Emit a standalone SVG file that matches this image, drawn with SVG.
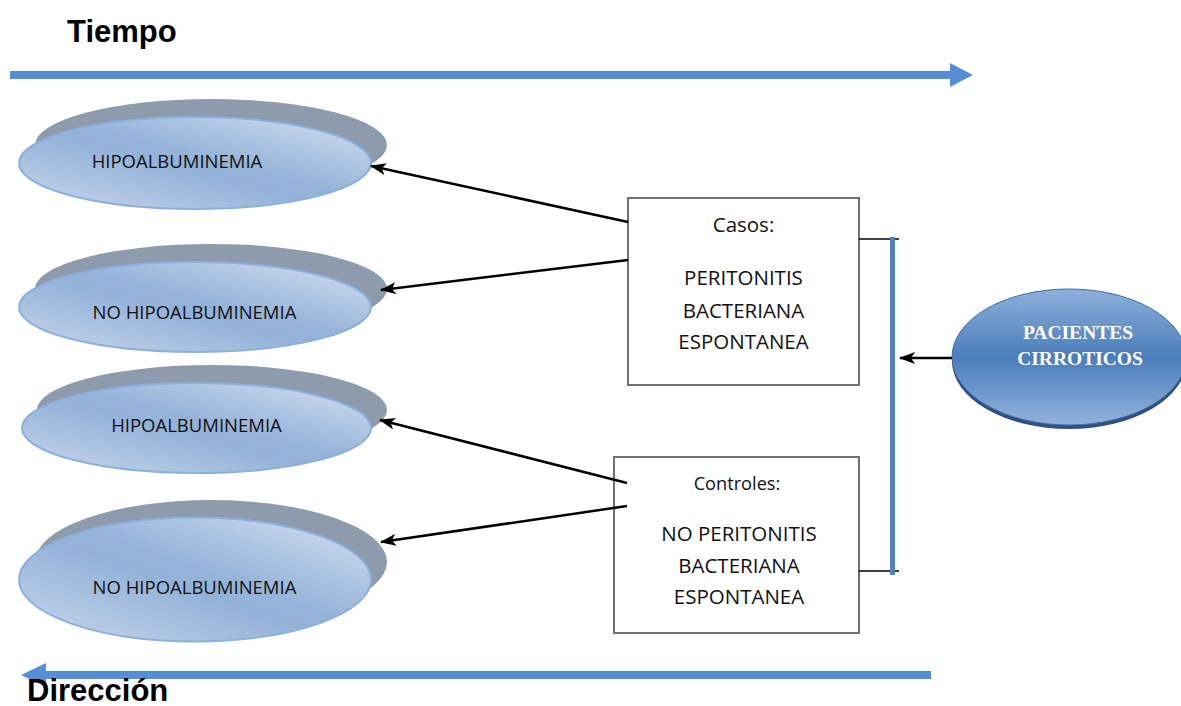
<svg xmlns="http://www.w3.org/2000/svg" width="1181" height="706" viewBox="0 0 1181 706">
<defs>
<linearGradient id="gEll" x1="0" y1="1" x2="1" y2="0">
<stop offset="0" stop-color="#c9d8ec"/>
<stop offset="0.45" stop-color="#94b2d8"/>
<stop offset="0.55" stop-color="#96b4d9"/>
<stop offset="1" stop-color="#d5e1f1"/>
</linearGradient>
<linearGradient id="gPac" x1="0" y1="0" x2="0" y2="1">
<stop offset="0" stop-color="#8fb0da"/>
<stop offset="0.5" stop-color="#4a7dbb"/>
<stop offset="1" stop-color="#93b2dc"/>
</linearGradient>
<marker id="ah" markerUnits="userSpaceOnUse" markerWidth="16" markerHeight="12" refX="15" refY="6" orient="auto">
<path d="M0,0 L16,6 L0,12 L4,6 Z" fill="#000"/>
</marker>
<style>
.shadow{fill:#8e9bac;}
.ell{fill:url(#gEll);stroke:#8cb0de;stroke-width:2;}
.et{font-family:"Open Sans","Noto Sans",sans-serif;font-size:18.5px;fill:#111;text-anchor:middle;}
.box{fill:#fff;stroke:#707070;stroke-width:2;}
.bt{font-family:"Open Sans","Noto Sans",sans-serif;font-size:20.5px;fill:#111;text-anchor:middle;}
.conn{stroke:#000;stroke-width:2.5;fill:none;}
.title{font-family:"Liberation Sans",Arial,sans-serif;font-weight:bold;font-size:31px;fill:#000;}
.pt{font-family:"Liberation Serif","Times New Roman",serif;font-weight:bold;font-size:19.5px;fill:#fff;text-anchor:middle;}
</style>
</defs>
<rect width="1181" height="706" fill="#fff"/>

<g id="tiempo">
<text class="title" x="67" y="42">Tiempo</text>
<rect x="10" y="71" width="942" height="8" fill="#558ed5"/>
<polygon points="950,63 973,75 950,87" fill="#558ed5"/>
</g>

<g id="direccion">
<rect x="44" y="671" width="887" height="8" fill="#558ed5"/>
<polygon points="46,663 21,675 46,687" fill="#558ed5"/>
<text class="title" x="27" y="701">Dirección</text>
</g>

<g id="ell1">
<ellipse class="shadow" cx="211" cy="145" rx="176" ry="46"/>
<ellipse class="ell" cx="195" cy="163" rx="176" ry="46"/>
<text class="et" x="177" y="168">HIPOALBUMINEMIA</text>
</g>

<g id="ell2">
<ellipse class="shadow" cx="211" cy="289" rx="176" ry="45"/>
<ellipse class="ell" cx="195" cy="307" rx="176" ry="45"/>
<text class="et" x="194.5" y="319">NO HIPOALBUMINEMIA</text>
</g>

<g id="ell3">
<ellipse class="shadow" cx="212" cy="410" rx="175" ry="45"/>
<ellipse class="ell" cx="196.5" cy="428" rx="174.5" ry="45"/>
<text class="et" x="196.5" y="432">HIPOALBUMINEMIA</text>
</g>

<g id="ell4">
<ellipse class="shadow" cx="211" cy="562" rx="176" ry="62"/>
<ellipse class="ell" cx="195" cy="579.5" rx="176" ry="62"/>
<text class="et" x="194.5" y="594">NO HIPOALBUMINEMIA</text>
</g>

<g id="casos">
<rect class="box" x="628" y="198" width="231" height="187"/>
<text class="bt" x="743.5" y="232">Casos:</text>
<text class="bt" x="743.5" y="285">PERITONITIS</text>
<text class="bt" x="743.5" y="317.5">BACTERIANA</text>
<text class="bt" x="743.5" y="349">ESPONTANEA</text>
</g>

<g id="controles">
<rect class="box" x="614" y="457" width="245" height="176"/>
<text class="bt" x="737" y="490" style="font-size:18.2px">Controles:</text>
<text class="bt" x="739" y="541">NO PERITONITIS</text>
<text class="bt" x="739" y="573">BACTERIANA</text>
<text class="bt" x="739" y="604">ESPONTANEA</text>
</g>

<g id="pacientes">
<ellipse cx="1069" cy="361" rx="117" ry="68" fill="#2f5182"/>
<ellipse cx="1069" cy="357" rx="117" ry="68" fill="url(#gPac)" stroke="#3f6ca6" stroke-width="1"/>
<text class="pt" x="1078" y="339">PACIENTES</text>
<text class="pt" x="1080" y="365">CIRROTICOS</text>
</g>

<g id="connectors">
<line class="conn" x1="628" y1="222" x2="371" y2="166" marker-end="url(#ah)"/>
<line class="conn" x1="628" y1="260" x2="381" y2="290" marker-end="url(#ah)"/>
<line class="conn" x1="627" y1="483" x2="380" y2="420" marker-end="url(#ah)"/>
<line class="conn" x1="627" y1="506" x2="381" y2="542" marker-end="url(#ah)"/>
<line class="conn" x1="952" y1="358" x2="900" y2="358" marker-end="url(#ah)"/>
<line x1="859" y1="239" x2="899" y2="239" stroke="#000" stroke-width="1.5"/>
<line x1="859" y1="571" x2="899" y2="571" stroke="#000" stroke-width="1.5"/>
<rect x="890" y="237" width="5" height="338" fill="#4f81bd"/>
</g>
</svg>
